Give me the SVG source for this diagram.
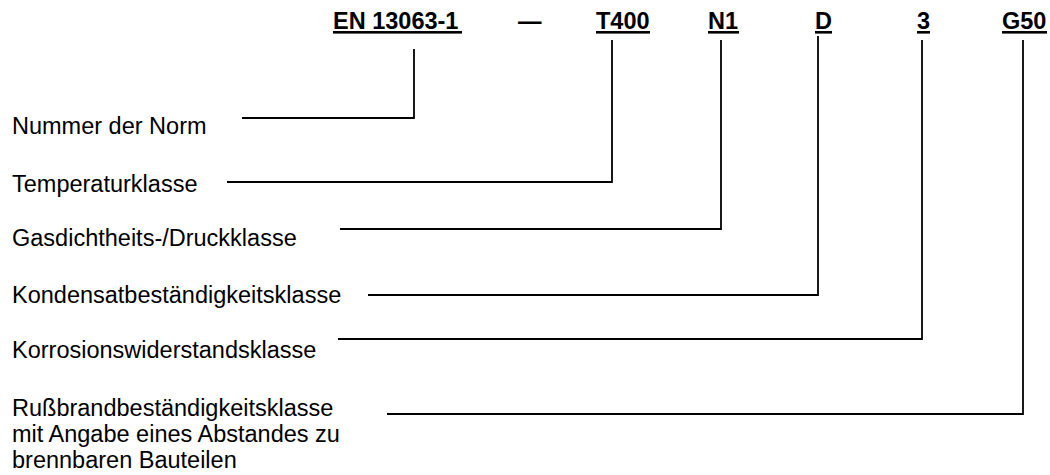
<svg xmlns="http://www.w3.org/2000/svg" width="1050" height="475" viewBox="0 0 1050 475">
<style>
.hd{font-family:"Liberation Sans",Arial,sans-serif;font-weight:bold;font-size:23.5px;fill:#000}
.lb{font-family:"Liberation Sans",Arial,sans-serif;font-size:23.5px;fill:#000}
.ul{fill:#000}
.cn{fill:none;stroke:#000;stroke-width:1.8}
</style>
<rect width="1050" height="475" fill="#fff"/>
<g id="hd-norm"><text class="hd" x="333" y="28.5">EN 13063-1</text><rect class="ul" x="333" y="31" width="129" height="2.6"/></g>
<g id="hd-dash"><text class="hd" x="518" y="28.5">—</text></g>
<g id="hd-t400"><text class="hd" x="596" y="28.5">T400</text><rect class="ul" x="596" y="31" width="54" height="2.6"/></g>
<g id="hd-n1"><text class="hd" x="708" y="28.5">N1</text><rect class="ul" x="708" y="31" width="31" height="2.6"/></g>
<g id="hd-d"><text class="hd" x="815" y="28.5">D</text><rect class="ul" x="815" y="31" width="17" height="2.6"/></g>
<g id="hd-3"><text class="hd" x="917" y="28.5">3</text><rect class="ul" x="917" y="31" width="13" height="2.6"/></g>
<g id="hd-g50"><text class="hd" x="1002" y="28.5">G50</text><rect class="ul" x="1002" y="31" width="45" height="2.6"/></g>

<g id="lb-norm"><text class="lb" x="12" y="134">Nummer der Norm</text></g>
<g id="lb-temp"><text class="lb" x="12" y="192">Temperaturklasse</text></g>
<g id="lb-gas"><text class="lb" x="12" y="246">Gasdichtheits-/Druckklasse</text></g>
<g id="lb-kond"><text class="lb" x="12" y="303">Kondensatbeständigkeitsklasse</text></g>
<g id="lb-korr"><text class="lb" x="12" y="358">Korrosionswiderstandsklasse</text></g>
<g id="lb-russ"><text class="lb" x="12" y="416">Rußbrandbeständigkeitsklasse<tspan x="12" y="442">mit Angabe eines Abstandes zu</tspan><tspan x="12" y="468">brennbaren Bauteilen</tspan></text></g>

<g id="connectors">
<polyline class="cn" points="414,49 414,118 242,118"/>
<polyline class="cn" points="612,40 612,182 227,182"/>
<polyline class="cn" points="721,40 721,229 340,229"/>
<polyline class="cn" points="818,36 818,295 368,295"/>
<polyline class="cn" points="922,40 922,339 338,339"/>
<polyline class="cn" points="1023,40 1023,414 387,414"/>
</g>
</svg>
